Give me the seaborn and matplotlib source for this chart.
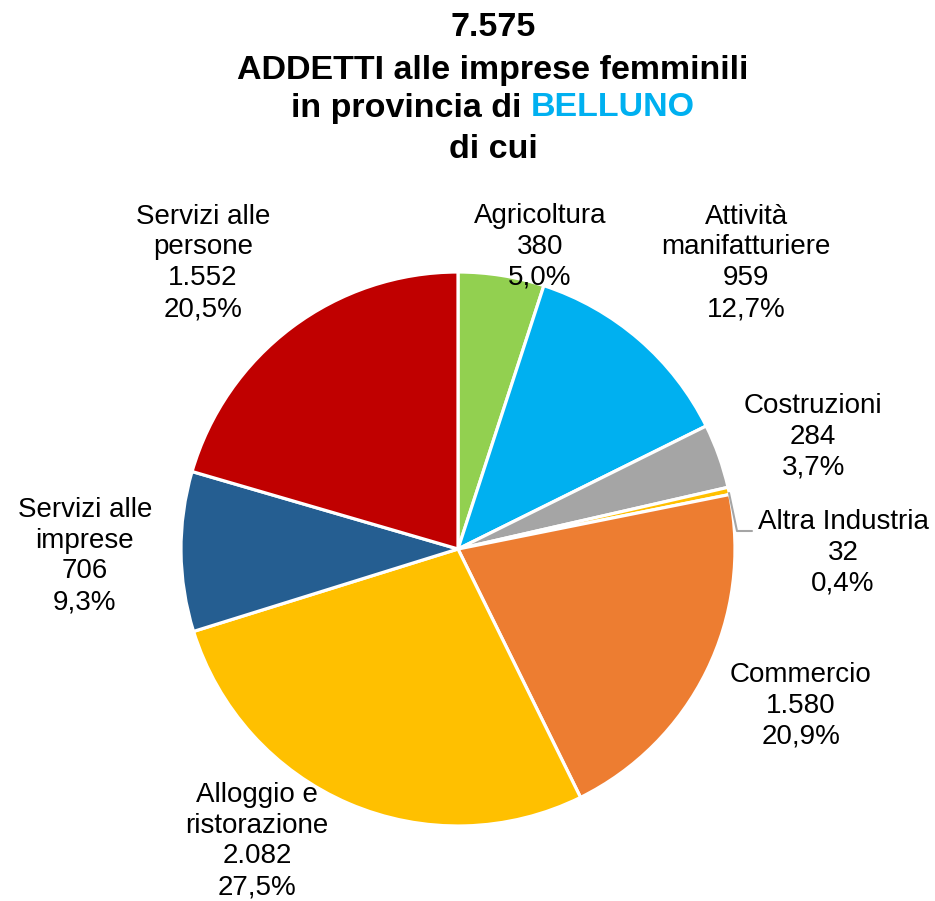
import matplotlib
matplotlib.use("Agg")
import matplotlib.pyplot as plt
import seaborn as sns

# ----------------------------
# DATI
# ----------------------------
settori = ['Agricoltura', 'Attività\nmanifatturiere', 'Costruzioni', 'Altra Industria',
           'Commercio', 'Alloggio e\nristorazione', 'Servizi alle\nimprese', 'Servizi alle\npersone']
addetti = [380, 959, 284, 32, 1580, 2082, 706, 1552]
percentuali = ['5,0%', '12,7%', '3,7%', '0,4%', '20,9%', '27,5%', '9,3%', '20,5%']
valori_txt = ['380', '959', '284', '32', '1.580', '2.082', '706', '1.552']
totale_txt = '7.575'
provincia = 'BELLUNO'

colori = sns.color_palette(['#92D050', '#00B0F0', '#A5A5A5', '#FFC000',
                            '#ED7D31', '#FFC000', '#255E91', '#C00000'])

# posizione etichette (in unità di raggio, relative al centro)
pos_etichette = [(0.296, 1.090), (1.040, 1.033), (1.282, 0.404), (1.390, -0.014),
                 (1.238, -0.567), (-0.726, -1.054), (-1.347, -0.025), (-0.921, 1.033)]

# ----------------------------
# GRAFICO
# ----------------------------
sns.set_style("white")
plt.rcParams['font.family'] = ['Liberation Sans', 'DejaVu Sans']
plt.rcParams['text.color'] = 'black'

W, H = 935, 901
fig = plt.figure(figsize=(W / 100, H / 100), dpi=100)
ax = fig.add_axes([0, 0, 1, 1])

cx, cy, R = 458, H - 549, 277
ax.pie(addetti, colors=colori, startangle=90, counterclock=False,
       center=(cx, cy), radius=R,
       wedgeprops=dict(edgecolor='white', linewidth=2.3))
ax.set_xlim(0, W)
ax.set_ylim(0, H)
ax.set_aspect('equal')
ax.axis('off')

for nome, val, perc, (px, py) in zip(settori, valori_txt, percentuali, pos_etichette):
    ax.text(cx + px * R, cy + py * R, f"{nome}\n{val}\n{perc}",
            ha='center', va='center', fontsize=20, linespacing=1.24, color='black')

# linea guida per Altra Industria
ax.plot([729, 737, 752], [H - 493, H - 531, H - 531], color='#A5A5A5', lw=1.5)

# ----------------------------
# TITOLO
# ----------------------------
tx = 493 / W
fs = 24.5
fig.text(tx, 1 - 28 / H, totale_txt, ha='center', va='center', fontsize=fs, fontweight='bold')
fig.text(tx, 1 - 70 / H, 'ADDETTI alle imprese femminili', ha='center', va='center',
         fontsize=fs, fontweight='bold')
fig.text(tx, 1 - 150 / H, 'di cui', ha='center', va='center', fontsize=fs, fontweight='bold')

renderer = fig.canvas.get_renderer()
y3 = 1 - 108 / H
full = fig.text(tx, y3, f'in provincia di {provincia}', ha='center', va='center',
                fontsize=fs, fontweight='bold', alpha=0)
bb = full.get_window_extent(renderer)
x0 = bb.x0 / W
x1 = bb.x1 / W
fig.text(x0, y3, 'in provincia di', ha='left', va='center', fontsize=fs, fontweight='bold')
fig.text(x1, y3, provincia, ha='right', va='center', fontsize=fs, fontweight='bold',
         color='#00B0F0')

fig.savefig('out.png', dpi=100)
